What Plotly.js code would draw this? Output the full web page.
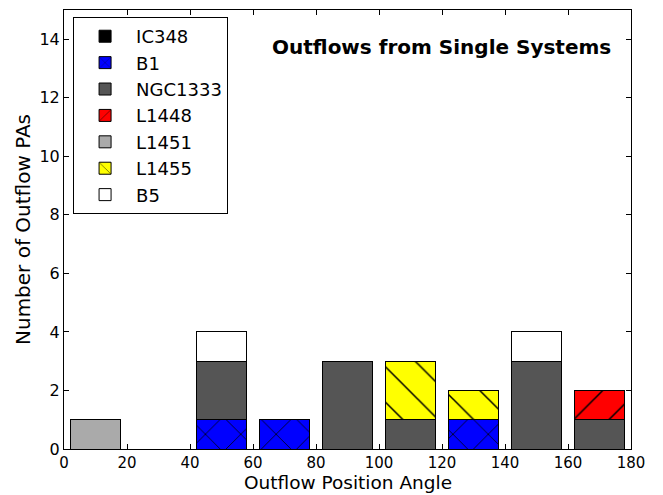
<!DOCTYPE html>
<html>
<head>
<meta charset="utf-8">
<script src="https://cdn.plot.ly/plotly-3.0.1.min.js"></script>
<style>html,body{margin:0;padding:0;background:#fff;}#chart{width:663px;height:495px;}</style>
</head>
<body>
<div id="chart"></div>
<script>
// Bin centers (degrees), bins of width 20 from 0 to 180
const binCenters = [10, 30, 50, 70, 90, 110, 130, 150, 170];
const seriesNames = ["IC348", "B1", "NGC1333", "L1448", "L1451", "L1455", "B5"];
const IC348   = [0, 0, 0, 0, 0, 0, 0, 0, 0];
const B1      = [0, 0, 1, 1, 0, 0, 1, 0, 0];
const NGC1333 = [0, 0, 2, 0, 3, 1, 0, 3, 1];
const L1448   = [0, 0, 0, 0, 0, 0, 0, 0, 1];
const L1451   = [1, 0, 0, 0, 0, 0, 0, 0, 0];
const L1455   = [0, 0, 0, 0, 0, 2, 1, 0, 0];
const B5      = [0, 0, 1, 0, 0, 0, 0, 1, 0];
const xTicks = [0, 20, 40, 60, 80, 100, 120, 140, 160, 180];
const yTicks = [0, 2, 4, 6, 8, 10, 12, 14];

const values = [IC348, B1, NGC1333, L1448, L1451, L1455, B5];
const colors = ["#000000", "#0000ff", "#555555", "#ff0000", "#aaaaaa", "#ffff00", "#ffffff"];
const patterns = ["", "x", "", "/", "", "\\", ""];

const traces = seriesNames.map((name, i) => ({
  type: "bar",
  name: name,
  x: binCenters,
  y: values[i],
  width: 16,
  legendgroup: name,
  marker: {
    color: colors[i],
    line: {color: "#000000", width: 1},
    pattern: patterns[i] ? {shape: patterns[i], size: 25, solidity: 0.06, fgcolor: "#000000", fgopacity: 1, fillmode: "overlay"} : {shape: ""}
  },
  hoverinfo: "skip"
}));

const font = {family: "DejaVu Sans, sans-serif", color: "#000000"};

const layout = {
  width: 663, height: 495,
  margin: {l: 64, r: 32, t: 10, b: 46, pad: 0},
  barmode: "stack",
  paper_bgcolor: "#ffffff",
  plot_bgcolor: "#ffffff",
  font: Object.assign({size: 16}, font),
  showlegend: true,
  legend: {
    x: 0.016, y: 0.984, xanchor: "left", yanchor: "top",
    bordercolor: "#000000", borderwidth: 1, bgcolor: "#ffffff",
    font: Object.assign({size: 18}, font),
    traceorder: "grouped", tracegroupgap: 0,
    itemwidth: 52
  },
  xaxis: {
    range: [0, 180], tickvals: xTicks, ticktext: xTicks.map(String),
    ticks: "inside", ticklen: 5, tickcolor: "#000", mirror: "allticks",
    showline: true, linecolor: "#000", linewidth: 1,
    showgrid: false, zeroline: false,
    tickfont: Object.assign({size: 15}, font)
  },
  yaxis: {
    range: [0, 15], tickvals: yTicks, ticktext: yTicks.map(String),
    ticks: "inside", ticklen: 5, tickcolor: "#000", mirror: "allticks",
    showline: true, linecolor: "#000", linewidth: 1,
    showgrid: false, zeroline: false,
    tickfont: Object.assign({size: 16}, font),
    title: {text: "Number of Outflow PAs", font: Object.assign({size: 20}, font), standoff: 3}
  },
  annotations: [{
    text: "<b>Outflows from Single Systems</b>",
    xref: "paper", yref: "paper", x: 0.968, y: 0.915,
    xanchor: "right", yanchor: "middle", showarrow: false,
    font: Object.assign({size: 20}, font)
  }, {
    text: "Outflow Position Angle",
    xref: "paper", yref: "paper", x: 0.5, y: -0.1048,
    xanchor: "center", yanchor: "bottom", showarrow: false,
    font: Object.assign({size: 18.5}, font)
  }]
};

Plotly.newPlot("chart", traces, layout, {staticPlot: true, displayModeBar: false});
</script>
</body>
</html>
